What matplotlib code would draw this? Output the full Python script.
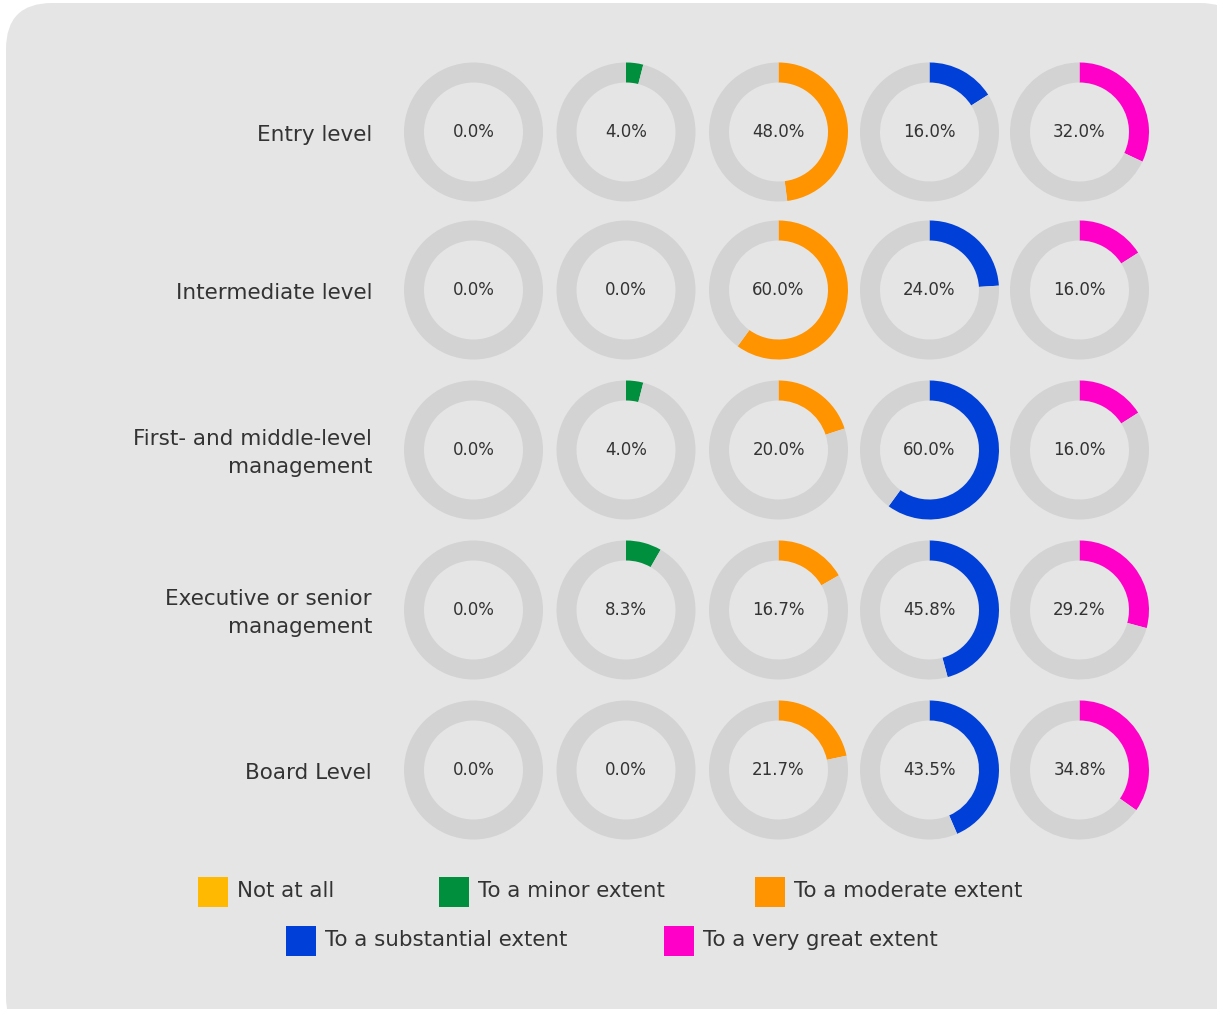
import matplotlib
matplotlib.use("Agg")
import matplotlib.pyplot as plt
from matplotlib.patches import FancyBboxPatch, Rectangle

# --- data ---
levels = [
    "Entry level",
    "Intermediate level",
    "First- and middle-level\nmanagement",
    "Executive or senior\nmanagement",
    "Board Level",
]
categories = [
    "Not at all",
    "To a minor extent",
    "To a moderate extent",
    "To a substantial extent",
    "To a very great extent",
]
entry_level = [0.0, 4.0, 48.0, 16.0, 32.0]
intermediate_level = [0.0, 0.0, 60.0, 24.0, 16.0]
first_middle_mgmt = [0.0, 4.0, 20.0, 60.0, 16.0]
executive_mgmt = [0.0, 8.3, 16.7, 45.8, 29.2]
board_level = [0.0, 0.0, 21.7, 43.5, 34.8]
values = [entry_level, intermediate_level, first_middle_mgmt, executive_mgmt, board_level]

colors = ["#FFB900", "#008F3C", "#FF9400", "#0040D8", "#FF00C8"]
ring_gray = "#D3D3D3"
bg_gray = "#E5E5E5"
text_color = "#333333"

# --- layout (pixels) ---
W, H = 1217, 1009
col_x = [473.5, 626, 778.5, 929.5, 1079.5]
row_y = [132, 290, 450, 610, 770]
r_out = 69.5
ring_w = 20
label_x = 372

legend_rows = [[0, 1, 2], [3, 4]]
legend_x = [[198, 439, 755], [286, 664]]
legend_y = [892, 941]
sq = 30

fig = plt.figure(figsize=(W / 100, H / 100), dpi=100)
fig.patch.set_facecolor("white")

base = fig.add_axes([0, 0, 1, 1])
base.set_xlim(0, W)
base.set_ylim(H, 0)
base.axis("off")

panel = FancyBboxPatch((6, 3), 1240, 1040, boxstyle="round,pad=0,rounding_size=46",
                       facecolor=bg_gray, edgecolor="none")
base.add_patch(panel)

# row labels
for i, lab in enumerate(levels):
    base.text(label_x, row_y[i] + 3, lab, ha="right", va="center", fontsize=15.5,
              color=text_color, linespacing=1.5)

# donuts
for i, row in enumerate(values):
    for j, v in enumerate(row):
        cx, cy = col_x[j], row_y[i]
        ax = fig.add_axes([(cx - r_out) / W, 1 - (cy + r_out) / H, 2 * r_out / W, 2 * r_out / H])
        if v > 0:
            parts, cols = [v, 100 - v], [colors[j], ring_gray]
        else:
            parts, cols = [100], [ring_gray]
        ax.pie(parts, colors=cols, startangle=90, counterclock=False,
               radius=1, wedgeprops=dict(width=ring_w / r_out, linewidth=0))
        ax.set_xlim(-1, 1)
        ax.set_ylim(-1, 1)
        ax.set_aspect("equal")
        ax.axis("off")
        ax.text(0, 0.0, f"{v:.1f}%", ha="center", va="center", fontsize=12, color=text_color)

# legend
for r, idxs in enumerate(legend_rows):
    for k, idx in enumerate(idxs):
        x0 = legend_x[r][k]
        y0 = legend_y[r]
        base.add_patch(Rectangle((x0, y0 - sq / 2), sq, sq, facecolor=colors[idx], edgecolor="none"))
        base.text(x0 + sq + 9, y0 - 1, categories[idx], ha="left", va="center",
                  fontsize=15.4, color=text_color)

fig.savefig("out.png", dpi=100, facecolor="white")
